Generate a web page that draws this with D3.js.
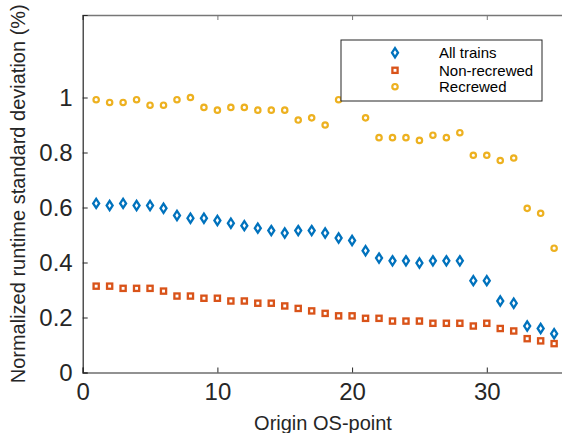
<!DOCTYPE html>
<html>
<head>
<meta charset="utf-8">
<script src="https://cdn.jsdelivr.net/npm/d3@7"></script>
<style>
  body { margin: 0; background: #fff; }
  svg { display: block; font-family: "Liberation Sans", Arial, sans-serif; }
</style>
</head>
<body>
<svg id="chart" width="562" height="433"></svg>
<script>
// origin OS-point index 1..35
var osPoints = d3.range(1, 36);

var allTrains = [0.615, 0.607, 0.615, 0.607, 0.607, 0.597, 0.571, 0.561, 0.561, 0.553,
                 0.543, 0.534, 0.525, 0.516, 0.507, 0.516, 0.516, 0.507, 0.489, 0.480,
                 0.443, 0.416, 0.406, 0.406, 0.398, 0.406, 0.406, 0.406, 0.334, 0.334,
                 0.260, 0.252, 0.169, 0.160, 0.141];

var nonRecrewed = [0.314, 0.314, 0.306, 0.306, 0.306, 0.296, 0.278, 0.278, 0.270, 0.270,
                   0.260, 0.260, 0.252, 0.252, 0.242, 0.233, 0.224, 0.215, 0.206, 0.206,
                   0.197, 0.197, 0.187, 0.187, 0.187, 0.179, 0.179, 0.179, 0.169, 0.179,
                   0.160, 0.151, 0.123, 0.115, 0.105];

var recrewed = [0.992, 0.982, 0.982, 0.992, 0.972, 0.972, 0.992, 1.000, 0.964, 0.954,
                0.964, 0.964, 0.954, 0.954, 0.954, 0.918, 0.926, 0.900, 0.992, 1.020,
                0.926, 0.854, 0.854, 0.854, 0.844, 0.863, 0.854, 0.872, 0.790, 0.790,
                0.771, 0.780, 0.597, 0.579, 0.452];

var xTicks = [0, 10, 20, 30];
var yTicks = [0, 0.2, 0.4, 0.6, 0.8, 1];

var series = [
  {name: "All trains", values: allTrains, color: "#0072BD", shape: "diamond"},
  {name: "Non-recrewed", values: nonRecrewed, color: "#D95319", shape: "square"},
  {name: "Recrewed", values: recrewed, color: "#EDB120", shape: "circle"}
];

var svg = d3.select("#chart");
var plotLeft = 82.7, plotRight = 567.6, plotTop = 15, plotBottom = 372.5;

var x = d3.scaleLinear().domain([0, 36]).range([plotLeft, plotRight]);
var y = d3.scaleLinear().domain([0, 1.3]).range([plotBottom, plotTop]);

var axisColor = "#262626";

// markers
function drawMarker(g, shape, color) {
  if (shape === "diamond") {
    g.append("path").attr("d", "M0,-4.6L3,0L0,4.6L-3,0Z")
      .attr("fill", "none").attr("stroke", color).attr("stroke-width", 2.3);
  } else if (shape === "square") {
    g.append("rect").attr("x", -2.6).attr("y", -2.6).attr("width", 5.2).attr("height", 5.2)
      .attr("fill", "none").attr("stroke", color).attr("stroke-width", 2.3);
  } else {
    g.append("circle").attr("r", 2.7)
      .attr("fill", "none").attr("stroke", color).attr("stroke-width", 2.2);
  }
}

var plot = svg.append("g");
series.forEach(function(s) {
  plot.selectAll(null)
    .data(s.values)
    .enter().append("g")
      .attr("transform", function(d, i) { return "translate(" + x(osPoints[i]) + "," + y(d) + ")"; })
      .each(function() { drawMarker(d3.select(this), s.shape, s.color); });
});

// axes
var xAxis = svg.append("g")
  .attr("transform", "translate(0," + plotBottom + ")")
  .call(d3.axisBottom(x).tickValues(xTicks).tickSize(-5).tickPadding(10).tickFormat(d3.format("d")));
var xAxisTop = svg.append("g")
  .attr("transform", "translate(0," + plotTop + ")")
  .call(d3.axisTop(x).tickValues(xTicks).tickSize(-5).tickFormat(""));
var yAxis = svg.append("g")
  .attr("transform", "translate(" + plotLeft + ",0)")
  .call(d3.axisLeft(y).tickValues(yTicks).tickSize(-5).tickPadding(10)
    .tickFormat(function(d) { return d === 0 || d === 1 ? d3.format("d")(d) : d3.format(".1f")(d); }));

[xAxis, yAxis].forEach(function(a) {
  a.select(".domain").attr("stroke", axisColor).attr("stroke-width", 1.2);
  a.selectAll(".tick line").attr("stroke", axisColor);
  a.selectAll(".tick text").attr("fill", axisColor).attr("font-size", 24)
    .attr("font-family", "Liberation Sans, Arial, sans-serif");
});
xAxisTop.select(".domain").attr("stroke", "#777").attr("stroke-width", 1.5);
xAxisTop.selectAll(".tick line").attr("stroke", "#777");
yAxis.selectAll(".tick text").attr("dy", "0.34em");

// axis labels
svg.append("text")
  .attr("x", 323)
  .attr("y", 430)
  .attr("text-anchor", "middle")
  .attr("font-size", 20)
  .attr("fill", axisColor)
  .text("Origin OS-point");

svg.append("text")
  .attr("transform", "translate(25," + (plotTop + plotBottom) / 2 + ") rotate(-90)")
  .attr("text-anchor", "middle")
  .attr("font-size", 20)
  .attr("fill", axisColor)
  .text("Normalized runtime standard deviation (%)");

// legend
var legend = svg.append("g");
legend.append("rect")
  .attr("x", 341).attr("y", 40).attr("width", 201).attr("height", 61)
  .attr("fill", "#fff").attr("stroke", axisColor).attr("stroke-width", 1);

var rowY = [52.7, 70.3, 86.7];
series.forEach(function(s, i) {
  var row = legend.append("g").attr("transform", "translate(0," + rowY[i] + ")");
  drawMarker(row.append("g").attr("transform", "translate(395,0)"), s.shape, s.color);
  row.append("text")
    .attr("x", 439).attr("dy", "0.35em")
    .attr("font-size", 15)
    .attr("fill", "#000")
    .text(s.name);
});
</script>
</body>
</html>
